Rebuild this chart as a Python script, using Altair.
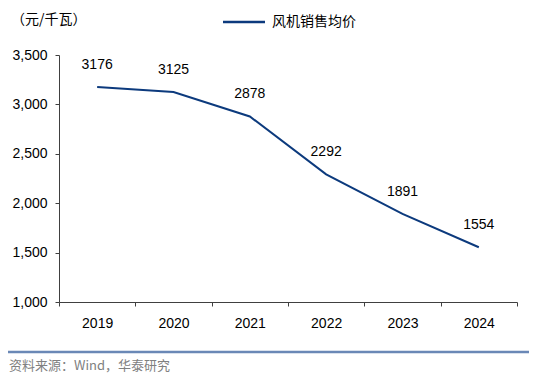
import altair as alt
import pandas as pd

years = ["2019", "2020", "2021", "2022", "2023", "2024"]
prices = [3176, 3125, 2878, 2292, 1891, 1554]
series_name = "风机销售均价"
unit_label = "（元/千瓦）"
source_label = "资料来源：Wind，华泰研究"

df = pd.DataFrame({"year": years, "price": prices, "series": series_name})

LINE = "#0C3A7D"
FONT = "Liberation Sans"
CJK = "Noto Sans CJK SC"

x = alt.X(
    "year:O",
    scale=alt.Scale(type="band", paddingInner=0, paddingOuter=0),
    axis=alt.Axis(
        title=None, labelAngle=0, tickBand="extent", labelFontSize=14,
        labelFont=FONT, labelColor="#000000", labelPadding=10,
        tickSize=4, tickColor="#404040", domainColor="#404040", grid=False,
    ),
)
y = alt.Y(
    "price:Q",
    scale=alt.Scale(domain=[1000, 3500], nice=False, zero=False),
    axis=alt.Axis(
        title=None, values=[1000, 1500, 2000, 2500, 3000, 3500], format=",d",
        labelFontSize=14, labelFont=FONT, labelColor="#000000", labelPadding=8,
        tickSize=4, tickColor="#404040", domainColor="#404040", grid=False,
    ),
)

base = alt.Chart(df)
line = base.mark_line(color=LINE, strokeWidth=2).encode(x=x, y=y)
labels = base.mark_text(dy=-22, fontSize=14, font=FONT, color="#000000").encode(
    x=x, y=y, text="price:Q"
)

legend_line = alt.Chart(pd.DataFrame({"s": [series_name]})).mark_rule(
    color=LINE, strokeWidth=2.5
).encode(x=alt.value(164), x2=alt.value(206), y=alt.value(-33))
legend_text = alt.Chart(pd.DataFrame({"s": [series_name]})).mark_text(
    align="left", baseline="middle", fontSize=14, font=CJK, color="#000000"
).encode(x=alt.value(213), y=alt.value(-33), text="s:N")

unit = alt.Chart(pd.DataFrame({"s": [unit_label]})).mark_text(
    align="left", baseline="middle", fontSize=14, font=CJK, color="#000000"
).encode(x=alt.value(-48), y=alt.value(-35), text="s:N")

sep = alt.Chart(pd.DataFrame({"s": [source_label]})).mark_rule(
    color="#6A88B6", strokeWidth=2.5
).encode(x=alt.value(-51), x2=alt.value(477), y=alt.value(297))
source = alt.Chart(pd.DataFrame({"s": [source_label]})).mark_text(
    align="left", baseline="middle", fontSize=13, font=CJK, color="#808080"
).encode(x=alt.value(-50), y=alt.value(311), text="s:N")

chart = alt.layer(line, labels, legend_line, legend_text, unit, sep, source).properties(
    width=458,
    height=247,
    autosize=alt.AutoSizeParams(type="none"),
    padding={"left": 51, "top": 47, "right": 12, "bottom": 72},
).configure_view(stroke=None)

chart.save("out.html", embed_options={"renderer": "svg", "actions": False})
